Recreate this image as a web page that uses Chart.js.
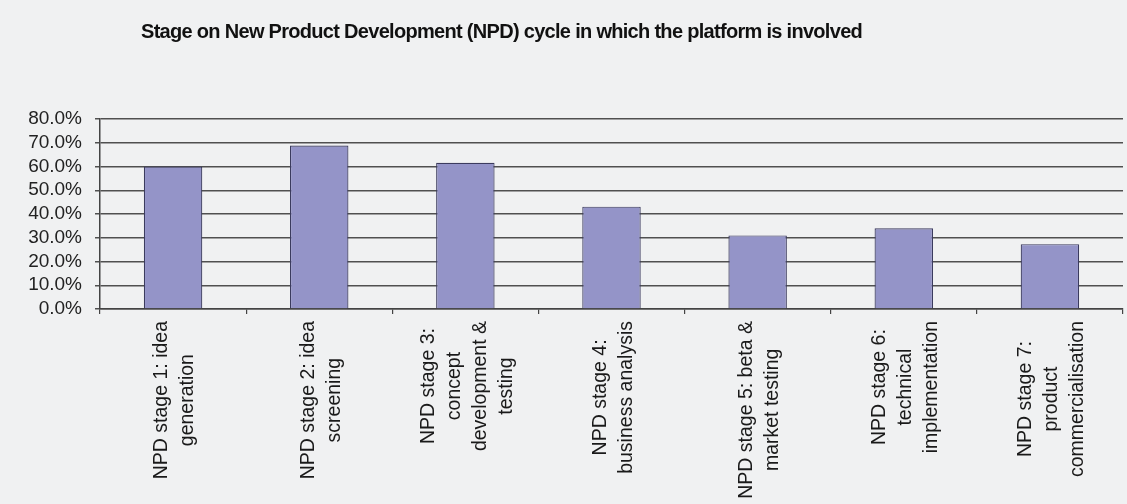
<!DOCTYPE html>
<html>
<head>
<meta charset="utf-8">
<title>NPD stages</title>
<script src="https://cdn.jsdelivr.net/npm/chart.js@4"></script>
<style>
  html, body { margin: 0; padding: 0; background: #f0f1f2; }
  #wrap { width: 1127px; height: 504px; position: relative; }
</style>
</head>
<body>
<div id="wrap"><canvas id="npdChart"></canvas></div>
<script>
/* Stage on NPD cycle in which the platform is involved */
const chartTitle = "Stage on New Product Development (NPD) cycle in which the platform is involved";

const stageLabels = [
    ["NPD stage 1: idea", "generation"],
    ["NPD stage 2: idea", "screening"],
    ["NPD stage 3:", "concept", "development &", "testing"],
    ["NPD stage 4:", "business analysis"],
    ["NPD stage 5: beta &", "market testing"],
    ["NPD stage 6:", "technical", "implementation"],
    ["NPD stage 7:", "product", "commercialisation"],
];

// share of respondents (%)
const stageShare = [60.0, 68.8, 61.6, 43.1, 31.0, 34.0, 27.3];

const labelFont = "19.5px 'Liberation Sans', Arial, sans-serif";

/* rotated category labels, lines centred on each other, top end at the axis */
const stageLabelPlugin = {
    id: "stageLabels",
    afterDraw(chart) {
        const ctx = chart.ctx;
        const xScale = chart.scales.x;
        const lineH = 26;
        const top = xScale.top + 12;
        ctx.save();
        ctx.font = labelFont;
        ctx.fillStyle = "#1a1a1a";
        ctx.textAlign = "center";
        ctx.textBaseline = "middle";
        stageLabels.forEach((lines, i) => {
            const cx = xScale.getPixelForTick(i) + 2;
            const w = Math.max(...lines.map(l => ctx.measureText(l).width));
            ctx.save();
            ctx.translate(cx, top);
            ctx.rotate(-Math.PI / 2);
            lines.forEach((line, j) => {
                const v = (j - (lines.length - 1) / 2) * lineH;
                ctx.fillText(line, -w / 2, v);
            });
            ctx.restore();
        });
        // heading
        ctx.font = "bold 20px 'Liberation Sans', Arial, sans-serif";
        ctx.letterSpacing = "-0.7px";
        ctx.fillStyle = "#111";
        ctx.textAlign = "left";
        ctx.textBaseline = "alphabetic";
        ctx.fillText(chartTitle, 141, 38);
        ctx.restore();
    }
};

const ctxNpd = document.getElementById("npdChart").getContext("2d");
const npdChart = new Chart(ctxNpd, {
    type: "bar",
    data: {
        labels: stageLabels,
        datasets: [
            {
                label: "Share",
                data: stageShare,
                backgroundColor: "rgb(148,148,200)",
                borderColor: "#3b3b5e",
                borderWidth: 1.2,
                barPercentage: 0.4,
                categoryPercentage: 1.0,
            },
        ],
    },
    options: {
        responsive: true,
        maintainAspectRatio: false,
        animation: false,
        layout: { padding: { top: 119, right: 4, left: 0, bottom: 0 } },
        plugins: {
            legend: { display: false },
            title: { display: false },
            tooltip: { enabled: false },
        },
        scales: {
            x: {
                afterFit(scale) { scale.height = 195; },
                ticks: { display: false },
                grid: {
                    offset: true,
                    drawOnChartArea: false,
                    drawTicks: true,
                    tickLength: 5,
                    color: "#444",
                    lineWidth: 1.2,
                },
                border: { display: true, color: "#444", width: 1.5 },
            },
            y: {
                min: 0,
                max: 80,
                afterFit(scale) { scale.width = 100; },
                ticks: {
                    stepSize: 10,
                    autoSkip: false,
                    padding: 13,
                    color: "#222",
                    font: { family: "'Liberation Sans', Arial, sans-serif", size: 19 },
                    callback: v => v.toFixed(1) + "%",
                },
                grid: {
                    color: "#505050",
                    lineWidth: 1.5,
                    drawTicks: true,
                    tickLength: 5,
                },
                border: { display: true, color: "#444", width: 1.5 },
            },
        },
    },
    plugins: [stageLabelPlugin],
});
</script>
</body>
</html>
